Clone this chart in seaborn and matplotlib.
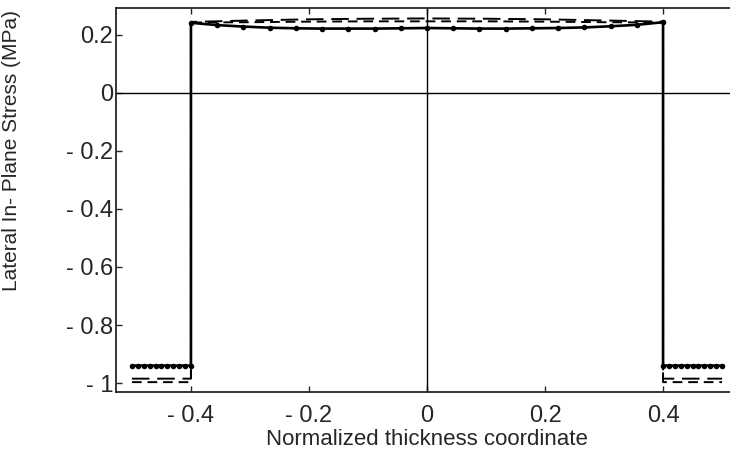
import matplotlib
matplotlib.use("Agg")
from matplotlib import pyplot as plt
import pandas as pd
import seaborn as sns

# solid line with dots (outer left, core, outer right)
left_x = [-0.5, -0.49, -0.48, -0.47, -0.46, -0.45, -0.44, -0.43, -0.42, -0.41, -0.4]
left_y = [-0.94, -0.94, -0.94, -0.94, -0.94, -0.94, -0.94, -0.94, -0.94, -0.94, -0.94]
core_x = [-0.4, -0.3556, -0.3111, -0.2667, -0.2222, -0.1778, -0.1333, -0.0889, -0.0444, 0.0,
          0.0444, 0.0889, 0.1333, 0.1778, 0.2222, 0.2667, 0.3111, 0.3556, 0.4]
core_y = [0.242, 0.234, 0.229, 0.225, 0.223, 0.222, 0.222, 0.222, 0.223, 0.224,
          0.223, 0.222, 0.222, 0.223, 0.224, 0.226, 0.230, 0.235, 0.244]
right_x = [0.4, 0.41, 0.42, 0.43, 0.44, 0.45, 0.46, 0.47, 0.48, 0.49, 0.5]
right_y = [-0.94, -0.94, -0.94, -0.94, -0.94, -0.94, -0.94, -0.94, -0.94, -0.94, -0.94]

# dashed comparison curves
dash_x = [-0.5, -0.4, -0.4, -0.3, -0.2, -0.1, 0.0, 0.1, 0.2, 0.3, 0.4, 0.4, 0.5]
dash1_y = [-0.985, -0.985, 0.245, 0.250, 0.254, 0.256, 0.257, 0.256, 0.254, 0.250, 0.246, -0.985, -0.985]
dash2_y = [-0.997, -0.997, 0.243, 0.244, 0.246, 0.247, 0.247, 0.247, 0.246, 0.244, 0.243, -0.997, -0.997]

x_ticks = [-0.4, -0.2, 0, 0.2, 0.4]
x_labels = ["- 0.4", "- 0.2", "0", "0.2", "0.4"]
y_ticks = [0.2, 0, -0.2, -0.4, -0.6, -0.8, -1]
y_labels = ["0.2", "0", "- 0.2", "- 0.4", "- 0.6", "- 0.8", "- 1"]

sns.set_style("ticks")
plt.rcParams['font.family'] = ['Liberation Sans', 'DejaVu Sans']

fig = plt.figure(figsize=(7.3, 4.72), dpi=100)
ax = fig.add_axes([116 / 730, 80 / 472, 622 / 730, 384 / 472])

# axis lines through origin
ax.axhline(0, color="black", lw=1.0, zorder=1)
ax.axvline(0, color="black", lw=1.0, zorder=1)

solid_x = left_x + core_x + right_x
solid_y = left_y + core_y + right_y
solid = pd.DataFrame({"x": solid_x, "y": solid_y})
sns.lineplot(data=solid, x="x", y="y", sort=False, estimator=None, color="black",
             lw=1.9, marker="o", markersize=4, markeredgewidth=0, ax=ax, zorder=3)

d1 = pd.DataFrame({"x": dash_x, "y": dash1_y})
sns.lineplot(data=d1, x="x", y="y", sort=False, estimator=None, color="black",
             lw=1.4, dashes=False, ax=ax, zorder=2).lines[-1].set_dashes([9, 4])
d2 = pd.DataFrame({"x": dash_x, "y": dash2_y})
sns.lineplot(data=d2, x="x", y="y", sort=False, estimator=None, color="black",
             lw=1.4, dashes=False, ax=ax, zorder=2).lines[-1].set_dashes([5, 3])

ax.set_xlim(-0.527, 0.527)
ax.set_ylim(-1.031, 0.293)
ax.set_xticks(x_ticks)
ax.set_xticklabels(x_labels, fontsize=17)
ax.set_yticks(y_ticks)
ax.set_yticklabels(y_labels, fontsize=17)
ax.tick_params(direction="in", length=4, width=1, top=True)
ax.tick_params(axis="y", pad=2)
ax.tick_params(axis="x", pad=9)
ax.set_xlabel("Normalized thickness coordinate", fontsize=16, labelpad=2)
ax.set_ylabel("Lateral In- Plane Stress (MPa)", fontsize=15)
ax.yaxis.set_label_coords(-0.152, 0.63)

for s in ["left", "bottom", "top"]:
    ax.spines[s].set_linewidth(1.3)
ax.spines["right"].set_visible(False)

fig.savefig("out.png", dpi=100)
